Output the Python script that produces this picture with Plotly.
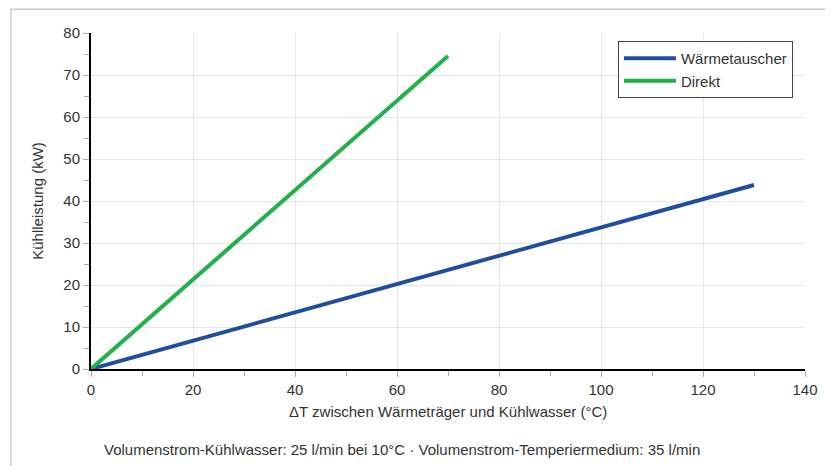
import plotly.graph_objects as go

x_waermetauscher = [0, 130]
y_waermetauscher = [0, 43.8]
x_direkt = [0, 70]
y_direkt = [0, 74.5]

x_ticks = [0, 20, 40, 60, 80, 100, 120, 140]
y_ticks = [0, 10, 20, 30, 40, 50, 60, 70, 80]

FONT = "Liberation Sans, Arial, sans-serif"
TXT = "#333333"
FS = 15

fig = go.Figure()
fig.add_trace(go.Scatter(x=x_waermetauscher, y=y_waermetauscher, mode="lines",
                         name="Wärmetauscher", line=dict(color="#1f4e9e", width=4)))
fig.add_trace(go.Scatter(x=x_direkt, y=y_direkt, mode="lines",
                         name="Direkt", line=dict(color="#22b04b", width=4)))

axis_common = dict(
    showline=True, linecolor="black", linewidth=2,
    showgrid=True, gridcolor="#e6e6e6", gridwidth=1,
    ticks="outside", ticklen=6, tickcolor="#aaaaaa", tickwidth=1,
    tickfont=dict(family=FONT, size=FS, color=TXT),
    zeroline=False, fixedrange=True,
)

fig.update_layout(
    width=833, height=466,
    margin=dict(l=83, r=36, t=25, b=105),
    paper_bgcolor="white", plot_bgcolor="white",
    font=dict(family=FONT, size=FS, color=TXT),
    xaxis=dict(range=[0, 140], tickvals=x_ticks,
               minor=dict(dtick=10, ticks="outside", ticklen=5, tickcolor="#aaaaaa", showgrid=False),
               **axis_common),
    yaxis=dict(range=[0, 80], tickvals=y_ticks,
               minor=dict(dtick=5, ticks="outside", ticklen=5, tickcolor="#aaaaaa", showgrid=False),
               **axis_common),
    legend=dict(x=0.738, y=0.976, xanchor="left", yanchor="top",
                bgcolor="white", bordercolor="#444444", borderwidth=1,
                font=dict(family=FONT, size=FS, color=TXT),
                itemwidth=52, tracegroupgap=0),
    showlegend=True,
)

fig.add_annotation(text="ΔT zwischen Wärmeträger und Kühlwasser (°C)",
                   xref="paper", yref="paper", x=0.5, y=-0.125,
                   xanchor="center", yanchor="middle", showarrow=False,
                   font=dict(family=FONT, size=FS, color=TXT))
fig.add_annotation(text="Kühlleistung (kW)",
                   xref="paper", yref="paper", x=-0.076, y=0.5, textangle=-90,
                   xanchor="center", yanchor="middle", showarrow=False,
                   font=dict(family=FONT, size=FS, color=TXT))
fig.add_annotation(text="Volumenstrom-Kühlwasser: 25 l/min bei 10°C · Volumenstrom-Temperiermedium: 35 l/min",
                   xref="paper", yref="paper", x=0.0154, y=-0.241,
                   xanchor="left", yanchor="middle", showarrow=False,
                   font=dict(family=FONT, size=FS, color=TXT))

fig.add_shape(type="rect", xref="paper", yref="paper",
              x0=-0.112, x1=1.031, y0=-0.6, y1=1.071,
              line=dict(color="#cccccc", width=1.5), layer="below")

fig.write_html("out.html")
